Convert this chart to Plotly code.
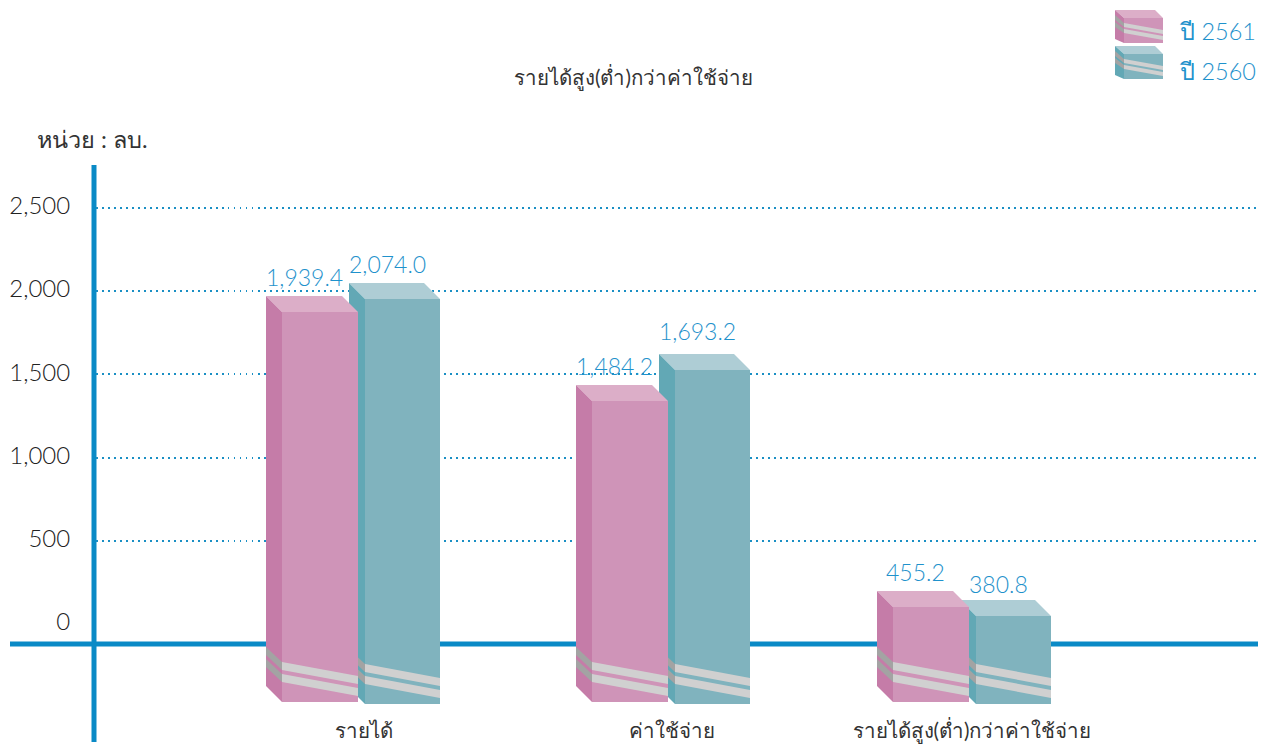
import plotly.graph_objects as go

# ---- data ----
categories = ["รายได้", "ค่าใช้จ่าย", "รายได้สูง(ต่ำ)กว่าค่าใช้จ่าย"]
labels_2561 = ["1,939.4", "1,484.2", "455.2"]
labels_2560 = ["2,074.0", "1,693.2", "380.8"]
# drawn height of the front face, read on the value axis
heights_2561 = [1874, 1339, 102]
heights_2560 = [1952, 1525, 48]
y_ticks = [0, 500, 1000, 1500, 2000, 2500]
y_tick_text = ["0", "500", "1,000", "1,500", "2,000", "2,500"]
grid_vals = [500, 1000, 1500, 2000, 2500]
series_names = ["ปี 2561", "ปี 2560"]

# ---- layout constants ----
W, H = 1267, 747
PAGE = 8                 # the page's own margin round the figure
PL, PR, PT, PB = 96, 1264, 165, 716
ZERO_PX = 624
UNIT = 0.1665            # pixels per value unit
px = 1 / UNIT            # value units per pixel
BASE_2561 = -468
BASE_2560 = -480
BAR_W_2561 = 76
BAR_W_2560 = 75
DEPTH = 16
LEFT_2561 = [282, 592, 893]
LEFT_2560 = [365, 675, 976]
CAT_X = [364, 672, 972]
BASELINE = -120
SHIFT_2561 = [19, 19, 19]
SHIFT_2560 = [19, 23, 16]

PINK = dict(front="#cf94b8", top="#dcaec8", side="#c57ca8")
TEAL = dict(front="#80b3be", top="#aecdd5", side="#62a8b5")
ST_FRONT, ST_SIDE = "#d0d0d0", "#a3a3a3"
BLUE, LABEL, DARK = "#0a8ac6", "#1f92cc", "#333333"
THAI = "Lato, 'Noto Sans', 'DejaVu Sans', sans-serif"


def poly(xs, ys, color, ax):
    return go.Scatter(x=xs + xs[:1], y=ys + ys[:1], mode="lines", fill="toself", fillcolor=color,
                      line=dict(width=0), hoverinfo="skip", showlegend=False,
                      xaxis="x" + ax, yaxis="y" + ax)


def bar_traces(lefts, heights, base, width, col, ax):
    tr = [go.Bar(x=[l + width / 2 for l in lefts], y=[h - base for h in heights], base=base,
                 width=width, marker=dict(color=col["front"], line=dict(width=0)),
                 hoverinfo="skip", showlegend=False, xaxis="x" + ax, yaxis="y" + ax)]
    for l, h in zip(lefts, heights):
        r = l + width
        d = DEPTH * px
        tr.append(poly([l, l - DEPTH, r - DEPTH, r], [h, h + d, h + d, h], col["top"], ax))
        tr.append(poly([l, l - DEPTH, l - DEPTH, l], [h, h + d, base + d, base], col["side"], ax))
        # the two pale bands across front and side, measured up from the foot of the bar
        for lo, hi in ((32, 40), (20, 28)):
            lo_r, hi_r = lo - 14, hi - 14
            tr.append(poly([l, r, r, l], [base + lo * px, base + lo_r * px, base + hi_r * px, base + hi * px],
                           ST_FRONT, ax))
            tr.append(poly([l - DEPTH, l, l, l - DEPTH],
                           [base + (lo + 15) * px, base + lo * px, base + hi * px, base + (hi + 15) * px],
                           ST_SIDE, ax))
    return tr


fig = go.Figure()
for t in bar_traces(LEFT_2560, heights_2560, BASE_2560, BAR_W_2560, TEAL, ""):
    fig.add_trace(t)
for t in bar_traces(LEFT_2561, heights_2561, BASE_2561, BAR_W_2561, PINK, "2"):
    fig.add_trace(t)

annotations = []
for lefts, hs, labs, shifts in ((LEFT_2561, heights_2561, labels_2561, SHIFT_2561),
                                (LEFT_2560, heights_2560, labels_2560, SHIFT_2560)):
    for l, h, s, sh in zip(lefts, hs, labs, shifts):
        annotations.append(dict(x=l - DEPTH + 38, y=h + DEPTH * px, text=s, yshift=sh, showarrow=False,
                                font=dict(family="Lato", size=23, color=LABEL, weight=300)))


def pxx(x):
    return (x - PL) / (PR - PL)


def pxy(y):
    return (PB - y) / (PB - PT)


def txt(x, y, s, size, color, anchor="center", weight=400):
    annotations.append(dict(xref="paper", yref="paper", x=pxx(x), y=pxy(y), text=s, showarrow=False,
                            xanchor=anchor, yanchor="middle",
                            font=dict(family=THAI, size=size, color=color, weight=weight)))


txt(633, 78, "รายได้สูง(ต่ำ)กว่าค่าใช้จ่าย", 20.5, DARK)
txt(92, 139, "หน่วย : ลบ.", 23.5, DARK)
txt(1178, 31, series_names[0], 23.5, LABEL, "left", 300)
txt(1178, 71, series_names[1], 23.5, LABEL, "left", 300)


def pshape(points, color):
    path = "M" + " L".join(f"{pxx(x):.5f},{pxy(y):.5f}" for x, y in points) + " Z"
    return dict(type="path", xref="paper", yref="paper", path=path, fillcolor=color, line=dict(width=0), layer="above")


shapes = [
    dict(type="line", xref="paper", yref="y", x0=pxx(10), x1=pxx(1258), y0=BASELINE, y1=BASELINE,
         line=dict(color=BLUE, width=5), layer="below"),
    dict(type="line", xref="paper", yref="paper", x0=pxx(94), x1=pxx(94), y0=pxy(165), y1=pxy(742),
         line=dict(color=BLUE, width=5), layer="below"),
]
for top, col in ((10, PINK), (46, TEAL)):
    shapes += [
        pshape([(1124, top + 8), (1115, top), (1155, top), (1163, top + 8)], col["top"]),
        pshape([(1124, top + 8), (1115, top), (1115, top + 29), (1124, top + 33)], col["side"]),
        pshape([(1124, top + 8), (1163, top + 8), (1163, top + 33), (1124, top + 33)], col["front"]),
        pshape([(1124, top + 13), (1163, top + 20), (1163, top + 24), (1124, top + 17)], ST_FRONT),
        pshape([(1124, top + 19), (1163, top + 26), (1163, top + 30), (1124, top + 23)], ST_FRONT),
        pshape([(1115, top + 5), (1124, top + 13), (1124, top + 17), (1115, top + 10)], ST_SIDE),
        pshape([(1115, top + 12), (1124, top + 19), (1124, top + 23), (1115, top + 17)], ST_SIDE),
    ]

y_range = [(ZERO_PX - PB) * px, (ZERO_PX - PT) * px]
fig.update_layout(
    template="none",
    width=W - PAGE, height=H - PAGE, autosize=False,
    margin=dict(l=PL - PAGE, r=W - PR, t=PT - PAGE, b=H - PB, pad=0, autoexpand=False),
    paper_bgcolor="white", plot_bgcolor="white", barmode="overlay", showlegend=False,
    xaxis=dict(range=[PL, PR], tickmode="array", tickvals=CAT_X, ticktext=categories, showgrid=False,
               zeroline=False, showline=False, ticks="", automargin=False,
               tickfont=dict(family=THAI, size=20.5, color=DARK)),
    yaxis=dict(range=y_range, tickmode="array", tickvals=y_ticks, ticktext=y_tick_text, showgrid=False,
               zeroline=False, showline=False, ticks="outside", ticklen=20, tickcolor="rgba(0,0,0,0)",
               ticklabelshift=-2, automargin=False,
               tickfont=dict(family="Lato", size=24, color="#222222", weight=300),
               minor=dict(tickmode="array", tickvals=grid_vals, showgrid=True, gridcolor="#1a8fc4",
                          griddash="1.5px,4.5px", gridwidth=1.5, ticks="")),
    xaxis2=dict(range=[PL, PR], overlaying="x", visible=False),
    yaxis2=dict(range=y_range, overlaying="y", visible=False),
    annotations=annotations, shapes=shapes,
)
fig.write_html("out.html")
